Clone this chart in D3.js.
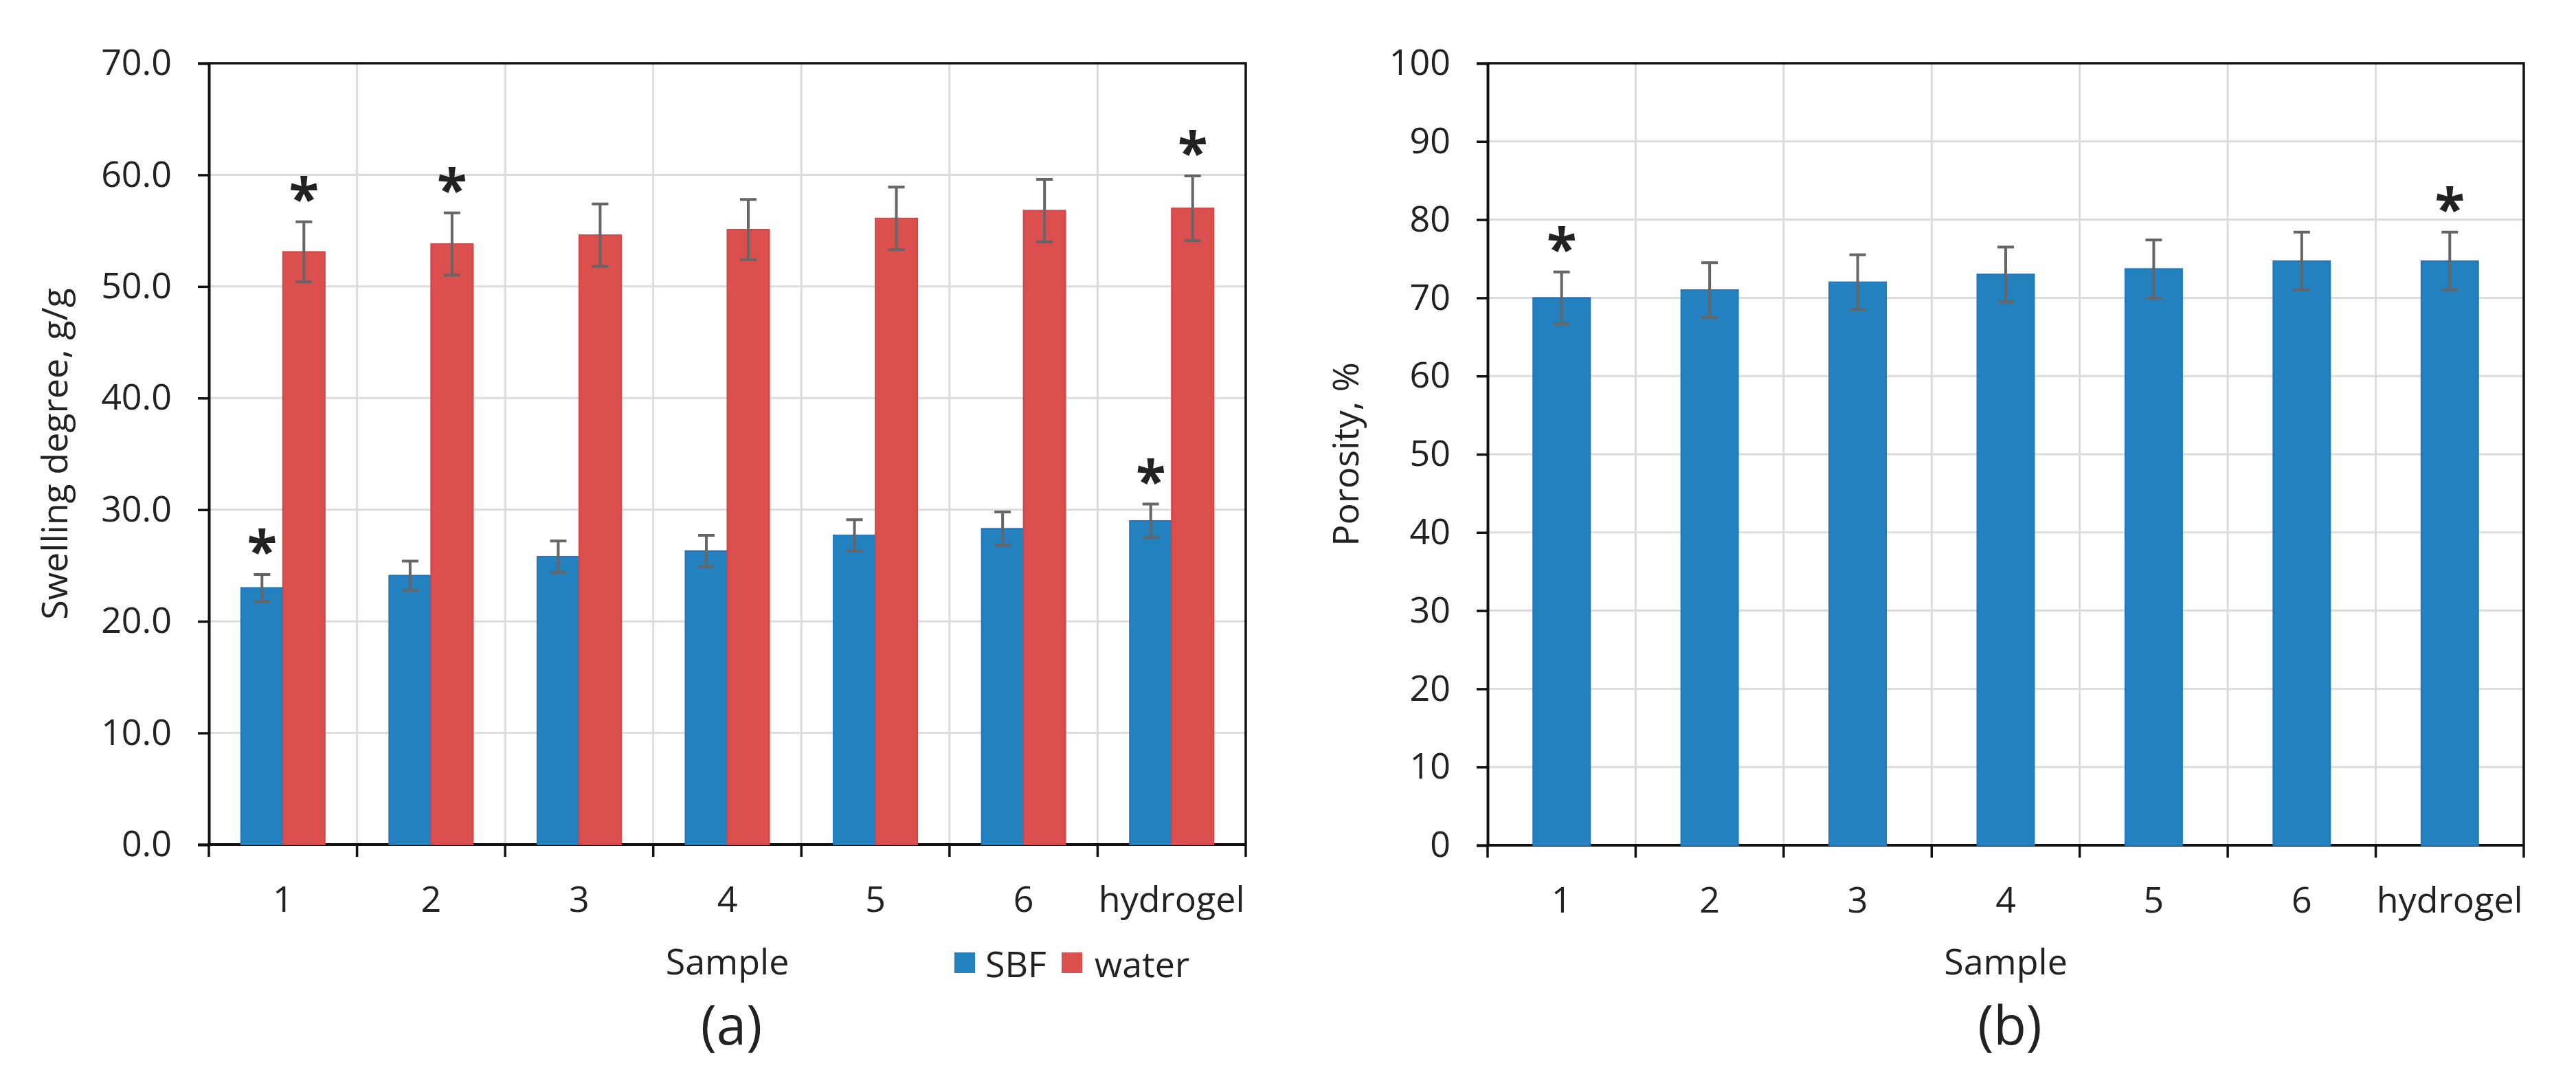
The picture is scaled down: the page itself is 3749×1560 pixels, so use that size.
<!DOCTYPE html>
<html>
<head>
<meta charset="utf-8">
<script src="https://cdn.jsdelivr.net/npm/d3@7"></script>
<style>
  html, body { margin: 0; padding: 0; background: #fff; }
  text { font-family: "Open Sans", "Noto Sans", sans-serif; fill: #222; }
</style>
</head>
<body>
<div id="chart"></div>
<script>
// Sample names shared by both panels
const samples = ["1", "2", "3", "4", "5", "6", "hydrogel"];

// (a) swelling degree, g/g
const sbf = [23.0, 24.1, 25.8, 26.3, 27.7, 28.3, 29.0];
const sbfErr = [1.2, 1.3, 1.4, 1.4, 1.4, 1.5, 1.5];
const sbfStar = [true, false, false, false, false, false, true];
const water = [53.1, 53.8, 54.6, 55.1, 56.1, 56.8, 57.0];
const waterErr = [2.7, 2.8, 2.8, 2.7, 2.8, 2.8, 2.9];
const waterStar = [true, true, false, false, false, false, true];
const seriesNames = ["SBF", "water"];

// (b) porosity, %
const porosity = [70.0, 71.0, 72.0, 73.0, 73.7, 74.7, 74.7];
const porosityErr = [3.3, 3.5, 3.5, 3.5, 3.7, 3.7, 3.7];
const porosityStar = [true, false, false, false, false, false, true];

const width = 3749;
const height = 1560;
const blue = "#2381c0";
const red = "#db4f4f";
const fs = 52;

const svg = d3.select("#chart").append("svg")
  .attr("width", width)
  .attr("height", height)
  .attr("viewBox", [0, 0, width, height]);

svg.append("rect").attr("width", width).attr("height", height).attr("fill", "#fff");

// draws the frame, grid and axes of one panel, returns the scales
function panel(left, right, top, bottom, yMax, yStep, fmt, yTitle, titleX, tag) {
  const g = svg.append("g");
  const x = d3.scaleBand().domain(samples).range([left, right]);
  const y = d3.scaleLinear().domain([0, yMax]).range([bottom, top]);
  const ticks = d3.range(0, yMax + yStep / 2, yStep);

  // grid
  g.append("g").selectAll("line")
    .data(ticks.filter(t => t > 0 && t < yMax))
    .join("line")
    .attr("x1", left).attr("x2", right)
    .attr("y1", d => y(d)).attr("y2", d => y(d))
    .attr("stroke", "#dcdcdc").attr("stroke-width", 3);
  g.append("g").selectAll("line")
    .data(samples.slice(1))
    .join("line")
    .attr("x1", d => x(d)).attr("x2", d => x(d))
    .attr("y1", top).attr("y2", bottom)
    .attr("stroke", "#dcdcdc").attr("stroke-width", 3);

  // box top / right
  g.append("path")
    .attr("d", `M${left},${top}H${right}V${bottom}`)
    .attr("fill", "none").attr("stroke", "#111").attr("stroke-width", 3.5);

  // y axis
  const ya = g.append("g")
    .attr("transform", `translate(${left},0)`)
    .call(d3.axisLeft(y).tickValues(ticks).tickFormat(fmt).tickSize(16).tickPadding(38));
  ya.select(".domain").attr("stroke", "#111").attr("stroke-width", 4);
  ya.selectAll(".tick line").attr("stroke", "#111").attr("stroke-width", 3.5);
  ya.selectAll("text").attr("font-size", fs).attr("font-family", null).attr("fill", "#222");

  // x axis: labels in band centres, ticks on band edges
  const xa = g.append("g")
    .attr("transform", `translate(0,${bottom})`)
    .call(d3.axisBottom(x).tickSize(0).tickPadding(61));
  xa.select(".domain").attr("stroke", "#111").attr("stroke-width", 4).attr("d", `M${left},0H${right}`);
  xa.selectAll("text").attr("font-size", fs).attr("font-family", null).attr("fill", "#222");
  g.append("g").selectAll("line")
    .data(samples.map(d => x(d)).concat([right]))
    .join("line")
    .attr("x1", d => d).attr("x2", d => d)
    .attr("y1", bottom).attr("y2", bottom + 18)
    .attr("stroke", "#111").attr("stroke-width", 3.5);

  // titles
  g.append("text")
    .attr("transform", `translate(${titleX},${(top + bottom) / 2}) rotate(-90)`)
    .attr("text-anchor", "middle").attr("dominant-baseline", "central")
    .attr("font-size", fs).text(yTitle);
  g.append("text")
    .attr("x", (left + right) / 2).attr("y", 1397)
    .attr("text-anchor", "middle").attr("dominant-baseline", "central")
    .attr("font-size", fs).text("Sample");
  g.append("text")
    .attr("x", (left + right) / 2 + 6).attr("y", 1490)
    .attr("text-anchor", "middle").attr("dominant-baseline", "central")
    .attr("font-size", 78).text(tag);

  return { g, x, y };
}

// error bar + optional asterisk
function errBar(g, cx, y, v, e, star) {
  g.append("path")
    .attr("d", `M${cx},${y(v - e)}V${y(v + e)}M${cx - 12},${y(v + e)}H${cx + 12}M${cx - 12},${y(v - e)}H${cx + 12}`)
    .attr("fill", "none").attr("stroke", "#666").attr("stroke-width", 4);
  if (star) {
    g.append("text")
      .attr("x", cx).attr("y", y(v + e) - 42 + 36)
      .attr("text-anchor", "middle")
      .attr("font-size", 80).attr("font-weight", "bold").attr("fill", "#111")
      .text("*");
  }
}

// ---- panel (a)
const a = panel(304, 1813, 92, 1229, 70, 10, d3.format(".1f"), "Swelling degree, g/g", 77, "(a)");
const barA = a.x.bandwidth() * 0.283;
const seriesA = [
  { name: "SBF", v: sbf, e: sbfErr, s: sbfStar, color: blue, stroke: "#1f78bd" },
  { name: "water", v: water, e: waterErr, s: waterStar, color: red, stroke: "#d94343" }
];
seriesA.forEach((s, k) => {
  samples.forEach((d, i) => {
    const x0 = a.x(d) + a.x.bandwidth() / 2 + (k - 1) * barA;
    a.g.append("rect")
      .attr("x", x0).attr("y", a.y(s.v[i]))
      .attr("width", barA).attr("height", a.y(0) - a.y(s.v[i]))
      .attr("fill", s.color).attr("stroke", s.stroke).attr("stroke-width", 2);
  });
});
seriesA.forEach((s, k) => {
  samples.forEach((d, i) => {
    const cx = a.x(d) + a.x.bandwidth() / 2 + (k - 0.5) * barA;
    errBar(a.g, cx, a.y, s.v[i], s.e[i], s.s[i]);
  });
});

// legend
const legend = svg.append("g");
const legX = [1389, 1545];
const legTextX = [1434, 1593];
seriesA.forEach((s, k) => {
  legend.append("rect")
    .attr("x", legX[k]).attr("y", 1386).attr("width", 30).attr("height", 30)
    .attr("fill", s.color);
  legend.append("text")
    .attr("x", legTextX[k]).attr("y", 1401)
    .attr("dominant-baseline", "central")
    .attr("font-size", fs).text(seriesNames[k]);
});

// ---- panel (b)
const b = panel(2165, 3673, 92, 1230, 100, 10, d3.format("d"), "Porosity, %", 1956, "(b)");
const barB = b.x.bandwidth() * 0.385;
samples.forEach((d, i) => {
  const cx = b.x(d) + b.x.bandwidth() / 2;
  b.g.append("rect")
    .attr("x", cx - barB / 2).attr("y", b.y(porosity[i]))
    .attr("width", barB).attr("height", b.y(0) - b.y(porosity[i]))
    .attr("fill", blue).attr("stroke", "#1f78bd").attr("stroke-width", 2);
});
samples.forEach((d, i) => {
  const cx = b.x(d) + b.x.bandwidth() / 2;
  errBar(b.g, cx, b.y, porosity[i], porosityErr[i], porosityStar[i]);
});
</script>
</body>
</html>
